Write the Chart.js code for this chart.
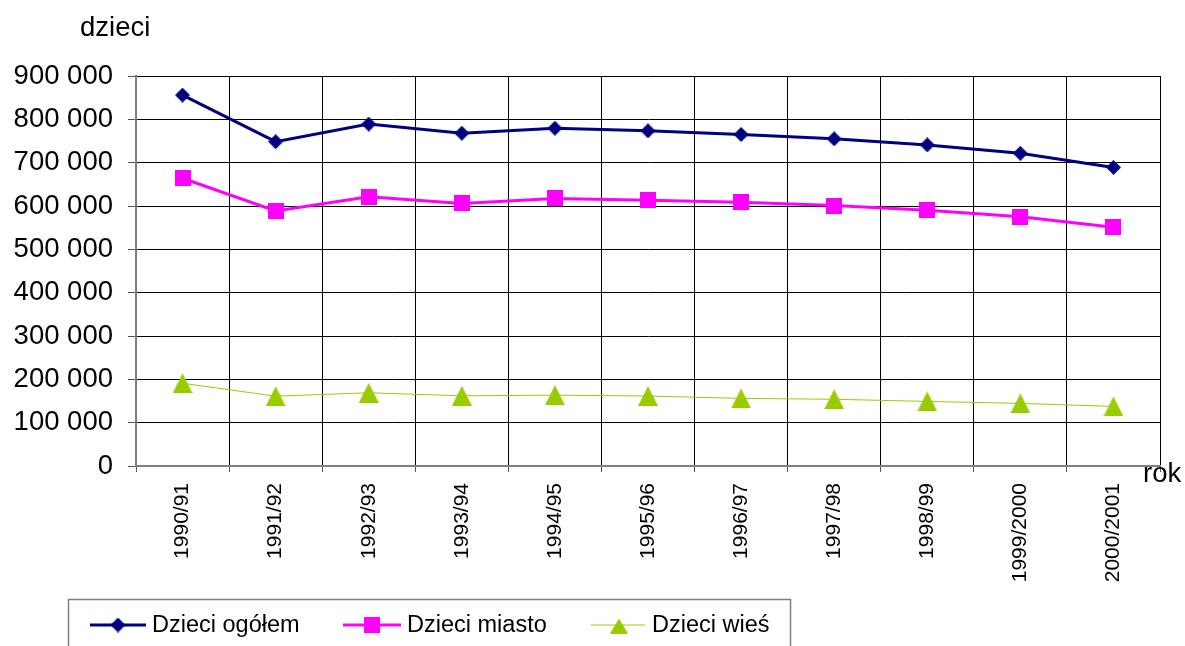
<!DOCTYPE html>
<html><head><meta charset="utf-8">
<script src="https://cdn.jsdelivr.net/npm/chart.js@4"></script>
<style>html,body{margin:0;padding:0;background:#fff;overflow:hidden}canvas{display:block}</style>
</head><body>
<canvas id="c" width="1185" height="646"></canvas>
<script>
// ---- data ----
const categories = ['1990/91','1991/92','1992/93','1993/94','1994/95','1995/96','1996/97','1997/98','1998/99','1999/2000','2000/2001'];
const seriesNames = ['Dzieci ogółem','Dzieci miasto','Dzieci wieś'];
const ogolem = [856000, 748500, 789000, 768000, 779500, 773500, 765000, 755000, 741000, 721500, 689000];
const miasto = [664000, 588500, 621500, 606000, 617500, 613000, 608500, 601000, 590000, 575000, 551000];
const wies   = [191000, 161000, 169000, 162000, 163500, 161500, 156000, 154000, 149000, 144500, 137500];
const yTickValues = [0,100000,200000,300000,400000,500000,600000,700000,800000,900000];
const yAxisTitle = 'dzieci';
const xAxisTitle = 'rok';

const FONT = '"Liberation Sans", Arial, sans-serif';

function mk(w, h, draw){const c=document.createElement('canvas');c.width=w;c.height=h;const x=c.getContext('2d');draw(x,w,h);return c;}
const diamond = mk(15,15,(x,w,h)=>{x.fillStyle='#000080';x.beginPath();x.moveTo(w/2,0);x.lineTo(w,h/2);x.lineTo(w/2,h);x.lineTo(0,h/2);x.closePath();x.fill();});
const square = mk(16,16,(x,w,h)=>{x.fillStyle='#FF00FF';x.fillRect(0,0,w,h);});
const triangle = mk(20,20,(x,w,h)=>{x.fillStyle='#99CC00';x.beginPath();x.moveTo(w/2,0);x.lineTo(w,h);x.lineTo(0,h);x.closePath();x.fill();});
const triangleSmall = mk(18,15,(x,w,h)=>{x.fillStyle='#99CC00';x.beginPath();x.moveTo(w/2,0);x.lineTo(w,h);x.lineTo(0,h);x.closePath();x.fill();});

function fmt(v){return String(v).replace(/\B(?=(\d{3})+(?!\d))/g,' ');}

const extras = {
  id:'extras',
  afterDraw(chart){
    const ctx = chart.ctx;
    ctx.save();
    ctx.fillStyle = '#000';
    ctx.textBaseline = 'alphabetic';
    ctx.textAlign = 'left';
    ctx.font = '27.5px ' + FONT;
    ctx.fillText(yAxisTitle, 80, 36);
    ctx.fillText(xAxisTitle, 1143, 482);
    // legend
    ctx.strokeStyle = '#808080';
    ctx.lineWidth = 1.5;
    ctx.strokeRect(68.5, 599.5, 722, 80);
    const items = [
      {x0:90, x1:146, mx:118, tx:152, color:'#000080', lw:3, img:diamond},
      {x0:343, x1:401, mx:372, tx:407, color:'#FF00FF', lw:3, img:square},
      {x0:591, x1:645, mx:619, tx:652, color:'#99CC00', lw:1, img:triangleSmall}
    ];
    const ly = 625;
    ctx.font = '23.5px ' + FONT;
    ctx.textBaseline = 'middle';
    items.forEach((it,i)=>{
      ctx.strokeStyle = it.color; ctx.lineWidth = it.lw;
      ctx.beginPath(); ctx.moveTo(it.x0, ly); ctx.lineTo(it.x1, ly); ctx.stroke();
      ctx.drawImage(it.img, it.mx - it.img.width/2, ly - it.img.height/2 + (i===2?1:0));
      ctx.fillStyle = '#000';
      ctx.fillText(chart.data.datasets[i].label, it.tx, ly + 1);
    });
    ctx.restore();
  }
};

new Chart(document.getElementById('c'), {
  type:'line',
  data:{
    labels: categories,
    datasets:[
      {label:seriesNames[0], data:ogolem, borderColor:'#000080', backgroundColor:'#000080', borderWidth:3, pointStyle:diamond, pointRadius:7, tension:0},
      {label:seriesNames[1], data:miasto, borderColor:'#FF00FF', backgroundColor:'#FF00FF', borderWidth:3, pointStyle:square, pointRadius:8, tension:0},
      {label:seriesNames[2], data:wies, borderColor:'#99CC00', backgroundColor:'#99CC00', borderWidth:1, pointStyle:triangle, pointRadius:10, tension:0}
    ]
  },
  options:{
    responsive:false,
    animation:false,
    devicePixelRatio:1,
    events:[],
    layout:{padding:{top:76,right:25,left:0,bottom:0}},
    plugins:{legend:{display:false},tooltip:{enabled:false}},
    scales:{
      x:{
        type:'category',
        offset:true,
        grid:{offset:true, color:'#000', lineWidth:1, tickLength:6, tickColor:'#555'},
        border:{display:true, color:'#808080', width:2},
        ticks:{minRotation:90, maxRotation:90, autoSkip:false, padding:11, color:'#000', font:{family:FONT, size:21}},
        afterFit(s){s.height = 180;}
      },
      y:{
        min:0, max:900000,
        afterBuildTicks(s){s.ticks = yTickValues.map(v=>({value:v}));},
        grid:{color:'#000', lineWidth:1, tickLength:8, tickColor:'#555'},
        border:{display:true, color:'#808080', width:2},
        ticks:{padding:15, color:'#000', font:{family:FONT, size:27.5}, callback:(v)=>fmt(v)},
        afterFit(s){s.width = 136;}
      }
    }
  },
  plugins:[extras]
});
</script>
</body></html>
